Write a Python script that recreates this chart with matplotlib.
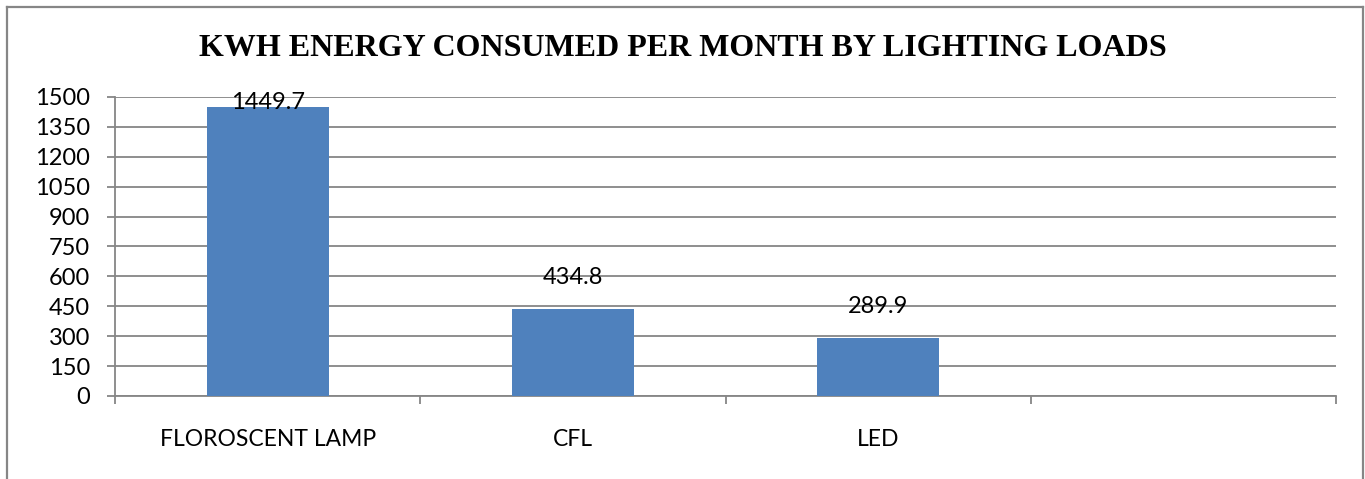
import matplotlib.pyplot as plt
from matplotlib.lines import Line2D

# data
categories = ["FLOROSCENT LAMP", "CFL", "LED"]
values = [1449.7, 434.8, 289.9]
n_slots = 4  # the source chart keeps one empty slot on the right
yticks = list(range(0, 1501, 150))

W, H = 1365, 479
fig = plt.figure(figsize=(W / 100, H / 100), dpi=100)
ax = fig.add_axes([115 / W, (H - 396) / H, (1336 - 115) / W, (396 - 97) / H])

grey = "#868686"
bar_color = "#4F81BD"

x = list(range(len(categories)))
ax.bar(x, values, width=0.4, color=bar_color, zorder=3)

ax.set_xlim(-0.5, n_slots - 0.5)
ax.set_ylim(0, 1500)
ax.set_yticks(yticks)
ax.set_yticklabels([str(v) for v in yticks], fontfamily="Lato", fontsize=17)
ax.yaxis.grid(True, color=grey, linewidth=1.3, zorder=0)
ax.set_axisbelow(True)

ax.set_xticks(x)
ax.set_xticklabels(categories, fontfamily="Lato", fontsize=16.5)
ax.set_xticks([i - 0.5 for i in range(n_slots + 1)], minor=True)
ax.tick_params(axis="x", which="major", length=0, pad=24)
ax.tick_params(axis="x", which="minor", length=6, width=1.3, color=grey, direction="out")
ax.tick_params(axis="y", length=6, width=1.3, color=grey, direction="out", pad=12)

for s in ["top", "right"]:
    ax.spines[s].set_visible(False)
for s in ["left", "bottom"]:
    ax.spines[s].set_color(grey)
    ax.spines[s].set_linewidth(1.3)

# value labels above bars, kept inside the plot area
for xi, v in zip(x, values):
    ypos = min(v + 160, 1470)
    ax.text(xi, ypos, f"{v}", ha="center", va="center", fontfamily="Lato",
            fontsize=17, zorder=4)

fig.text(0.5, 1 - 48 / H, "KWH ENERGY CONSUMED PER MONTH BY LIGHTING LOADS",
         ha="center", va="center", fontfamily="Liberation Serif",
         fontweight="bold", fontsize=23)

# outer chart border (bottom edge falls outside the image)
bx0, bx1, by0 = 7 / W, 1363 / W, 1 - 7 / H
for xs, ys in [([bx0, bx1], [by0, by0]), ([bx0, bx0], [by0, -0.1]), ([bx1, bx1], [by0, -0.1])]:
    fig.add_artist(Line2D(xs, ys, color=grey, linewidth=1.6, transform=fig.transFigure))

fig.savefig("out.png", dpi=100)
